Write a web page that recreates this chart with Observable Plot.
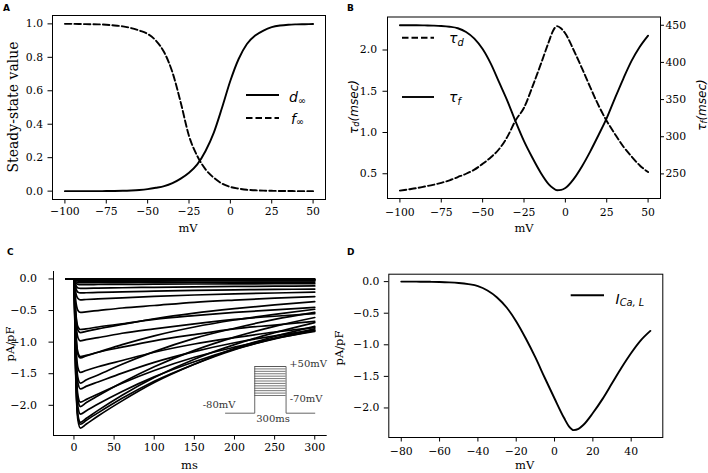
<!DOCTYPE html>
<html><head><meta charset="utf-8">
<script src="https://cdn.jsdelivr.net/npm/d3@7"></script>
<script src="https://cdn.jsdelivr.net/npm/@observablehq/plot@0.6"></script>
<style>
html,body{margin:0;padding:0;background:#fff;}
#root{position:relative;width:708px;height:473px;overflow:hidden;background:#fff;}
#root svg{position:absolute;left:0;top:0;}
</style></head><body><div id="root"></div>
<script>
// ---------- Panel A: steady-state values ----------
const voltA = [-100,-95,-90,-85,-80,-75,-70,-65,-60,-55,-50,-45,-40,-35,-30,-25,-20,-15,-10,-5,0,5,10,15,20,25,30,35,40,45,50];
const dInf = [0,0,0,0,0.0002,0.0005,0.001,0.002,0.004,0.007,0.012,0.02,0.03,0.048,0.075,0.11,0.16,0.24,0.35,0.5,0.66,0.79,0.88,0.93,0.96,0.98,0.99,0.995,0.997,0.998,0.999];
const fInf = [1,1,0.999,0.998,0.997,0.995,0.99,0.985,0.975,0.96,0.94,0.9,0.83,0.71,0.53,0.33,0.21,0.13,0.08,0.045,0.025,0.015,0.008,0.005,0.003,0.002,0.001,0.001,0,0,0];
const ticksAx = [-100,-75,-50,-25,0,25,50];
const ticksAy = [0,0.2,0.4,0.6,0.8,1.0];

// ---------- Panel B: time constants ----------
const voltB = [-100,-95,-90,-85,-80,-75,-70,-65,-60,-55,-50,-45,-40,-35,-30,-25,-20,-15,-10,-7.5,-5,-2.5,0,5,10,15,20,25,30,35,40,45,50];
const tauD = [0.295,0.31,0.325,0.345,0.365,0.39,0.42,0.46,0.5,0.55,0.62,0.7,0.8,0.95,1.15,1.3,1.55,1.82,2.1,2.23,2.29,2.26,2.2,2.0,1.78,1.55,1.33,1.14,0.98,0.83,0.71,0.6,0.52];
const tauF = [450,450,450,449.8,449.5,449,448,446,441,432,418,398,373,348,320,294,272,252,236,231,228,228.5,231,243,260,280,302,325,352,378,402,421,436];
const ticksBx = [-100,-75,-50,-25,0,25,50];
const ticksBy = [0.5,1.0,1.5,2.0];
const ticksBright = [250,300,350,400,450];

// ---------- Panel C: current traces ----------
const timeC = [-10,0,2,5,8,15,30,60,100,150,200,250,300];
const stepVoltsC = [-70,-65,-60,-55,-50,-45,-40,-35,-30,-25,-20,-15,-10,-5,0,5,10,15,20,25,30,35,40,45,50];
const currentTraces = [
  [0,0,0,0,0,0,0,0,0,0,0,0,0],
  [0,0,-0.003,-0.005,-0.005,-0.005,-0.005,-0.005,-0.005,-0.005,-0.005,-0.005,-0.005],
  [0,0,-0.006,-0.01,-0.01,-0.01,-0.01,-0.01,-0.01,-0.01,-0.01,-0.01,-0.01],
  [0,0,-0.012,-0.019,-0.02,-0.02,-0.02,-0.02,-0.02,-0.02,-0.02,-0.02,-0.02],
  [0,0,-0.021,-0.033,-0.035,-0.035,-0.034,-0.034,-0.033,-0.032,-0.031,-0.03,-0.03],
  [0,0,-0.036,-0.057,-0.06,-0.06,-0.059,-0.057,-0.055,-0.053,-0.052,-0.051,-0.05],
  [0,0,-0.054,-0.086,-0.09,-0.089,-0.088,-0.086,-0.083,-0.08,-0.078,-0.076,-0.075],
  [0,0,-0.09,-0.143,-0.15,-0.148,-0.145,-0.139,-0.132,-0.125,-0.119,-0.114,-0.11],
  [0,0,-0.13,-0.21,-0.22,-0.218,-0.213,-0.204,-0.193,-0.182,-0.173,-0.166,-0.16],
  [0,0,-0.2,-0.31,-0.33,-0.325,-0.316,-0.298,-0.276,-0.254,-0.236,-0.222,-0.21],
  [0,0,-0.32,-0.5,-0.53,-0.52,-0.5,-0.46,-0.42,-0.37,-0.335,-0.305,-0.28],
  [0,0,-0.51,-0.81,-0.85,-0.83,-0.79,-0.72,-0.63,-0.54,-0.47,-0.41,-0.36],
  [0,0,-0.75,-1.19,-1.25,-1.22,-1.16,-1.04,-0.9,-0.76,-0.65,-0.56,-0.48],
  [0,0,-0.99,-1.57,-1.65,-1.6,-1.52,-1.35,-1.15,-0.94,-0.78,-0.64,-0.53],
  [0,0,-1.21,-1.92,-2.02,-1.96,-1.85,-1.64,-1.39,-1.13,-0.92,-0.75,-0.61],
  [0,0,-1.36,-2.16,-2.27,-2.21,-2.08,-1.84,-1.56,-1.27,-1.04,-0.85,-0.69],
  [0,0,-1.42,-2.24,-2.36,-2.3,-2.17,-1.93,-1.64,-1.35,-1.1,-0.91,-0.75],
  [0,0,-1.38,-2.19,-2.3,-2.24,-2.12,-1.89,-1.62,-1.35,-1.12,-0.94,-0.79],
  [0,0,-1.28,-2.03,-2.14,-2.09,-1.98,-1.78,-1.55,-1.31,-1.11,-0.95,-0.82],
  [0,0,-1.17,-1.85,-1.95,-1.91,-1.82,-1.65,-1.45,-1.24,-1.08,-0.94,-0.83],
  [0,0,-1.04,-1.65,-1.74,-1.7,-1.63,-1.49,-1.32,-1.15,-1.01,-0.9,-0.81],
  [0,0,-0.89,-1.41,-1.48,-1.45,-1.39,-1.29,-1.16,-1.03,-0.93,-0.84,-0.77],
  [0,0,-0.74,-1.17,-1.23,-1.21,-1.16,-1.08,-0.98,-0.88,-0.79,-0.73,-0.67],
  [0,0,-0.59,-0.93,-0.98,-0.96,-0.93,-0.86,-0.79,-0.71,-0.64,-0.59,-0.55],
  [0,0,-0.48,-0.76,-0.8,-0.79,-0.76,-0.71,-0.64,-0.58,-0.53,-0.49,-0.45]
];
const ticksCx = [0,50,100,150,200,250,300];
const ticksCy = [-2.0,-1.5,-1.0,-0.5,0.0];
// voltage protocol inset (ms, mV)
const protoTime = [-280,0,0,300,300,575];
const protoVolt = [-80,-80,50,50,-80,-80];
const protoLevels = [-70,-60,-50,-40,-30,-20,-10,0,10,20,30,40,50];

// ---------- Panel D: I-V curve ----------
const voltD = [-80,-75,-70,-65,-60,-55,-50,-45,-40,-35,-30,-25,-20,-15,-10,-5,0,5,7.5,10,12.5,15,20,25,30,35,40,45,50];
const iCaL = [0,0,-0.001,-0.003,-0.006,-0.012,-0.022,-0.04,-0.07,-0.14,-0.25,-0.41,-0.63,-0.9,-1.2,-1.53,-1.85,-2.16,-2.29,-2.35,-2.33,-2.27,-2.08,-1.86,-1.61,-1.36,-1.13,-0.93,-0.78];
const ticksDx = [-80,-60,-40,-20,0,20,40];
const ticksDy = [-2.0,-1.5,-1.0,-0.5,0.0];

// ---------- drawing ----------
const W = 708, H = 473;
const root = document.getElementById("root");
const fmtInt = d3.format("d");
const fmt1 = d3.format(".1f");
const st = fs => ({background:"transparent", overflow:"visible", fontFamily:"'DejaVu Serif', serif", fontSize: fs + "px", color:"#000"});
const solid = {stroke:"#000", strokeWidth:1.9, curve:"monotone-x"};
const dash = "6.5,3";

// A
const plotA = Plot.plot({
  width:W, height:H, marginLeft:52, marginRight:383, marginTop:15, marginBottom:274,
  style: st(10.8),
  x:{domain:[-107.5,57.5]}, y:{domain:[-0.05,1.05]},
  marks:[
    Plot.frame({stroke:"#000", strokeWidth:1}),
    Plot.axisX({ticks:ticksAx, tickFormat:fmtInt, tickSize:4.5, tickPadding:3.5, label:null}),
    Plot.axisY({ticks:ticksAy, tickFormat:fmt1, tickSize:4.5, tickPadding:5, label:null}),
    Plot.line(voltA.map((v,i)=>({v, y:dInf[i]})), {x:"v", y:"y", ...solid}),
    Plot.line(voltA.map((v,i)=>({v, y:fInf[i]})), {x:"v", y:"y", ...solid, strokeDasharray:dash})
  ]
});
root.appendChild(plotA);

// B
const yB0 = 0.2, yB1 = 2.4, tB0 = 216.9, tB1 = 461.1;
const tauToY = t => yB0 + (t - tB0) * (yB1 - yB0) / (tB1 - tB0);
const yToTau = y => tB0 + (y - yB0) * (tB1 - tB0) / (yB1 - yB0);
const plotB = Plot.plot({
  width:W, height:H, marginLeft:387, marginRight:48, marginTop:16.5, marginBottom:275,
  style: st(10.8),
  x:{domain:[-107.5,57.5]}, y:{domain:[yB0,yB1]},
  marks:[
    Plot.frame({stroke:"#000", strokeWidth:1}),
    Plot.axisX({ticks:ticksBx, tickFormat:fmtInt, tickSize:4.5, tickPadding:5, label:null}),
    Plot.axisY({ticks:ticksBy, tickFormat:fmt1, tickSize:4.5, tickPadding:6, label:null}),
    Plot.axisY({anchor:"right", ticks:ticksBright.map(tauToY), tickFormat:y=>String(Math.round(yToTau(y))), tickSize:3, tickPadding:2, label:null}),
    Plot.line(voltB.map((v,i)=>({v, y:tauD[i]})), {x:"v", y:"y", ...solid, strokeDasharray:dash}),
    Plot.line(voltB.map((v,i)=>({v, y:tauToY(tauF[i])})), {x:"v", y:"y", ...solid})
  ]
});
root.appendChild(plotB);

// C
const rowsC = stepVoltsC.flatMap((V,k)=>timeC.map((t,j)=>({t, I:currentTraces[k][j], V})));
const plotC = Plot.plot({
  width:W, height:H, marginLeft:53, marginRight:381.3, marginTop:271, marginBottom:38,
  style: st(11),
  x:{domain:[-25.5,315.5]}, y:{domain:[-2.478,0.118]},
  marks:[
    Plot.ruleX([-25.5], {stroke:"#000", strokeWidth:1}),
    Plot.ruleY([-2.478], {stroke:"#000", strokeWidth:1}),
    Plot.axisX({ticks:ticksCx, tickFormat:fmtInt, tickSize:4.5, tickPadding:3.5, label:null}),
    Plot.axisY({ticks:ticksCy, tickFormat:fmt1, tickSize:4.5, tickPadding:12, label:null}),
    Plot.line(rowsC, {x:"t", y:"I", z:"V", stroke:"#000", strokeWidth:1.7, curve:"monotone-x"})
  ]
});
root.appendChild(plotC);

// C inset: voltage protocol (schematic scales)
const insetX = d3.scaleLinear().domain([-280,575]).range([225,314.3]);
const insetY = d3.scaleLinear().domain([-80,-70,50]).range([412.7,395,366]);
const insetFont = {fontFamily:"DejaVu Serif", fontSize:10, fill:"#333"};
const plotInset = Plot.plot({
  width:W, height:H,
  style:{background:"transparent", overflow:"visible"},
  x:{type:"identity", axis:null},
  y:{type:"identity", axis:null},
  marks:[
    Plot.ruleY(protoLevels, {y:v=>insetY(v), x1:()=>insetX(0), x2:()=>insetX(300), stroke:"#555", strokeWidth:0.8}),
    Plot.line(protoTime.map((t,i)=>({t, v:protoVolt[i]})), {x:d=>insetX(d.t), y:d=>insetY(d.v), stroke:"#555", strokeWidth:0.9}),
    Plot.text(["+50mV"], {x:()=>insetX(330), y:()=>insetY(50), dy:-3, textAnchor:"start", ...insetFont}),
    Plot.text(["-70mV"], {x:()=>insetX(335), y:()=>insetY(-70), dy:3, textAnchor:"start", ...insetFont}),
    Plot.text(["-80mV"], {x:()=>insetX(-184), y:()=>insetY(-80), dy:-8, textAnchor:"end", ...insetFont}),
    Plot.text(["300ms"], {x:()=>insetX(175), y:()=>insetY(-80), dy:6, textAnchor:"middle", ...insetFont})
  ]
});
root.appendChild(plotInset);

// D
const plotD = Plot.plot({
  width:W, height:H, marginLeft:388.3, marginRight:45.7, marginTop:273.7, marginBottom:36,
  style: st(10.8),
  x:{domain:[-86.5,56.5]}, y:{domain:[-2.4675,0.1175]},
  marks:[
    Plot.frame({stroke:"#000", strokeWidth:1}),
    Plot.axisX({ticks:ticksDx, tickFormat:fmtInt, tickSize:4.5, tickPadding:5, label:null}),
    Plot.axisY({ticks:ticksDy, tickFormat:fmt1, tickSize:4.5, tickPadding:5, label:null}),
    Plot.line(voltD.map((v,i)=>({v, y:iCaL[i]})), {x:"v", y:"y", ...solid})
  ]
});
root.appendChild(plotD);

// ---------- labels, legends ----------
const ov = d3.select(root).append("svg").attr("width",W).attr("height",H);
const serif = "'DejaVu Serif', serif", sans = "'DejaVu Sans', sans-serif";
function label(x, y, s, o={}) {
  const t = ov.append("text").attr("x",x).attr("y",y).text(s)
    .attr("font-family", o.family||serif).attr("font-size", o.size||11.5)
    .attr("text-anchor", o.anchor||"middle").attr("fill","#000");
  if (o.weight) t.attr("font-weight", o.weight);
  if (o.rot) t.attr("transform", `rotate(${o.rot},${x},${y})`).attr("dominant-baseline","central");
  return t;
}
function math(x, y, main, sub, o={}) {
  const t = ov.append("text").attr("x",x).attr("y",y)
    .attr("font-family", sans).attr("font-style","italic").attr("font-size", o.size||14)
    .attr("text-anchor", o.anchor||"start").attr("fill","#000");
  if (o.rot) t.attr("transform", `rotate(${o.rot},${x},${y})`).attr("dominant-baseline","central");
  t.append("tspan").text(main);
  t.append("tspan").attr("font-size", (o.size||14)*0.7).attr("dy", o.subdy||3).text(sub);
  if (o.tail) t.append("tspan").attr("dy", -(o.subdy||3)).text(o.tail);
  return t;
}
function swatch(x1, x2, y, dashed) {
  const l = ov.append("line").attr("x1",x1).attr("x2",x2).attr("y1",y).attr("y2",y)
    .attr("stroke","#000").attr("stroke-width",1.9);
  if (dashed) l.attr("stroke-dasharray", dash);
}
// panel letters
label(3, 11, "A", {family:sans, size:9, weight:"bold", anchor:"start"});
label(347, 11, "B", {family:sans, size:9, weight:"bold", anchor:"start"});
label(7, 255, "C", {family:sans, size:9, weight:"bold", anchor:"start"});
label(347, 255, "D", {family:sans, size:9, weight:"bold", anchor:"start"});
// axis labels
label(188, 232, "mV");
label(524, 232, "mV");
label(189.5, 469, "ms");
label(524.7, 469, "mV");
label(12.5, 107, "Steady-state value", {rot:-90, size:14});
label(10, 344, "pA/pF", {rot:-90});
label(339, 348, "pA/pF", {rot:-90});
math(354, 107, "τ", "d", {rot:-90, size:12, anchor:"middle", subdy:2, tail:"(msec)"});
math(702, 105, "τ", "f", {rot:-90, size:12, anchor:"middle", subdy:2, tail:"(msec)"});
// legends
swatch(246, 279, 95, false); math(289, 101.5, "d", "∞", {subdy:2});
swatch(246, 279, 118, true); math(291, 124, "f", "∞", {subdy:1});
swatch(402, 434, 37.7, true); math(449, 43, "τ", "d", {subdy:3});
swatch(402, 434, 97, false); math(449, 101.5, "τ", "f", {subdy:3});
swatch(570.7, 604, 295.3, false); math(615.5, 304, "I", "Ca, L", {subdy:2});
</script>
</body></html>
